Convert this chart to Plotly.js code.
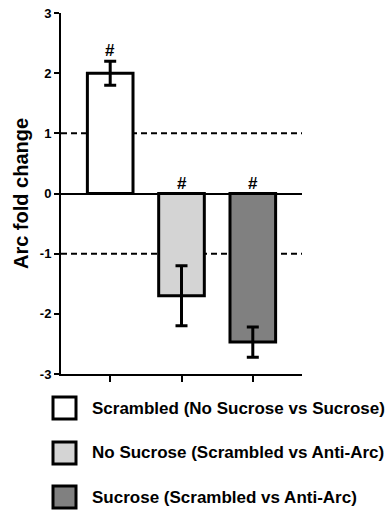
<!DOCTYPE html>
<html><head><meta charset="utf-8">
<script src="https://cdn.plot.ly/plotly-3.0.1.min.js"></script>
<style>html,body{margin:0;padding:0;background:#fff}</style>
</head><body>
<div id="chart" style="width:385px;height:510px"></div>
<script>
// Data
const categories = ['Scrambled (No Sucrose vs Sucrose)', 'No Sucrose (Scrambled vs Anti-Arc)', 'Sucrose (Scrambled vs Anti-Arc)'];
const foldChange = [2.0, -1.7, -2.47];
const errors = [0.2, 0.5, 0.25];
const barColors = ['#ffffff', '#d4d4d4', '#808080'];
const signif = ['#', '#', '#'];
const yTicks = [-3, -2, -1, 0, 1, 2, 3];
const yTickText = ['-3', '-2', '-1', '0', '1', '2', '3'];
const refLines = [1, -1];

const FONT = 'Liberation Sans, Arial, sans-serif';
const W = 385, H = 510, mL = 61, mR = 83, mT = 13, mB = 136;
const pw = W - mL - mR, ph = H - mT - mB;
const px = x => (x - mL) / pw;
const py = y => (H - mB - y) / ph;

const traces = categories.map((c, i) => ({
  type: 'bar', x: [i], y: [foldChange[i]], name: c, width: 0.64,
  marker: {color: barColors[i], line: {color: '#000', width: 3}},
  error_y: {type: 'data', array: [errors[i]], visible: true, color: '#000', thickness: 3, width: 6},
  showlegend: false
}));

const shapes = refLines.map(v => ({
  type: 'line', xref: 'paper', x0: 0, x1: 1, yref: 'y', y0: v, y1: v, layer: 'below',
  line: {color: '#000', width: 2, dash: '6px,4px'}
}));
const annotations = signif.map((s, i) => ({
  x: i, y: foldChange[i] > 0 ? foldChange[i] + errors[i] : 0, xref: 'x', yref: 'y',
  text: s, showarrow: false, yanchor: 'bottom', yshift: -1,
  font: {family: FONT, size: 17, color: '#000', weight: 'bold'}
}));

// custom legend
const rowY = [408, 453, 497];
categories.forEach((c, i) => {
  shapes.push({type: 'rect', xref: 'paper', yref: 'paper', x0: px(53), x1: px(76), y0: py(rowY[i] - 11), y1: py(rowY[i] + 11),
    fillcolor: barColors[i], line: {color: '#000', width: 3}});
  annotations.push({xref: 'paper', yref: 'paper', x: px(90), y: py(rowY[i]), xanchor: 'left', yanchor: 'middle',
    text: c, showarrow: false, font: {family: FONT, size: 17, color: '#000', weight: 'bold'}});
});

const layout = {
  width: W, height: H, margin: {l: mL, r: mR, t: mT, b: mB},
  paper_bgcolor: '#fff', plot_bgcolor: '#fff', showlegend: false,
  xaxis: {range: [-0.69, 2.69], tickvals: [0, 1, 2], showticklabels: false, showgrid: false, zeroline: false,
    showline: true, linecolor: '#000', linewidth: 2, ticks: 'outside', ticklen: 6, tickwidth: 2, tickcolor: '#000'},
  yaxis: {range: [-3, 3], tickvals: yTicks, ticktext: yTickText, showgrid: false, zeroline: true, zerolinecolor: '#000', zerolinewidth: 2,
    showline: true, linecolor: '#000', linewidth: 2, ticks: 'outside', ticklen: 5, tickwidth: 2, tickcolor: '#000',
    tickfont: {family: FONT, size: 13, color: '#000', weight: 'bold'},
    title: {text: 'Arc fold change', standoff: 6, font: {family: FONT, size: 20, color: '#000', weight: 'bold'}}},
  shapes: shapes, annotations: annotations
};
Plotly.newPlot('chart', traces, layout, {staticPlot: true, displayModeBar: false});
</script>
</body></html>
